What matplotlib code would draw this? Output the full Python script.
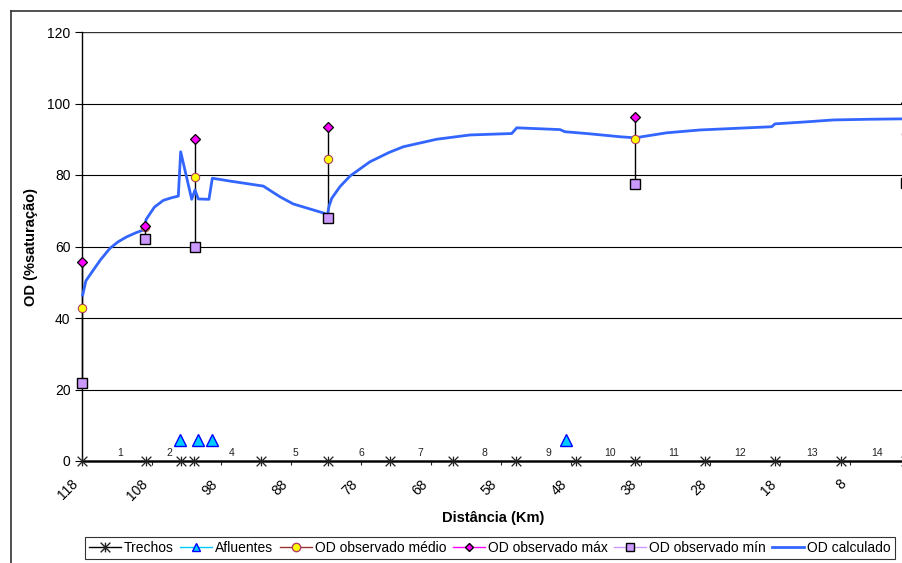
import matplotlib
matplotlib.use("Agg")
import matplotlib.pyplot as plt
from matplotlib.path import Path
from matplotlib.lines import Line2D
from matplotlib.transforms import ScaledTranslation

plt.rcParams['font.family'] = ['Liberation Sans', 'DejaVu Sans']

# ---------------- data ----------------
trecho_km = [118, 108.8, 103.8, 101.9, 92.3, 82.8, 73.8, 64.8, 55.8, 47.2, 38.8, 28.7, 18.7, 9.3, 0]
trecho_od = [0] * len(trecho_km)
trecho_labels = ['1', '2', '4', '5', '6', '7', '8', '9', '10', '11', '12', '13', '14']
trecho_label_km = [112.5, 105.5, 96.6, 87.4, 78.0, 69.5, 60.3, 51.2, 42.3, 33.2, 23.8, 13.4, 4.1]

afl_km = [103.9, 101.3, 99.3, 48.7]
afl_od = [6, 6, 6, 6]

obs_km = [117.9, 108.9, 101.8, 82.8, 38.8, 0]
obs_mean = [42.7, 65.5, 79.4, 84.4, 90.0, 91.5]
obs_max = [55.8, 65.6, 90.1, 93.4, 96.2, 100.2]
obs_min = [21.7, 62.1, 59.9, 67.9, 77.5, 77.7]

calc_km = [117.86, 117.4, 116.34, 115.3, 113.95, 112.8, 111.56, 110.3, 109.18, 108.87,
           108.8, 107.6, 106.32, 105.2, 104.17, 103.83, 102.25, 101.78, 101.31, 99.78,
           99.30, 96.77, 92.0, 89.61, 87.71, 83.27, 82.85, 82.6, 82.2, 81.0, 79.59,
           76.73, 74.0, 71.96, 67.18, 62.41, 56.44, 55.72, 49.52, 48.81, 45.70, 40.93,
           38.79, 34.25, 29.48, 19.22, 18.75, 14.0, 10.4, 5.0, 0.56, 0]
calc_od = [46.4, 50.4, 53.4, 56.3, 59.5, 61.3, 62.7, 63.8, 64.6, 65.0,
           67.5, 71.0, 72.9, 73.6, 74.1, 86.5, 73.2, 75.8, 73.3, 73.2,
           79.1, 78.3, 76.9, 73.9, 71.9, 69.3, 68.6, 71.2, 73.5, 76.8, 79.7,
           83.7, 86.3, 87.9, 90.0, 91.2, 91.6, 93.2, 92.7, 92.1, 91.6, 90.7,
           90.4, 91.8, 92.6, 93.5, 94.3, 94.9, 95.4, 95.6, 95.7, 95.7]

x_ticks = [118, 108, 98, 88, 78, 68, 58, 48, 38, 28, 18, 8]
y_ticks = [0, 20, 40, 60, 80, 100, 120]

# ---------------- figure ----------------
W, H = 902, 563
fig = plt.figure(figsize=(W / 100, H / 100), dpi=100)
fig.patch.set_facecolor('white')

# outer chart frame (cropped at right/bottom)
fig.add_artist(Line2D([10.5 / W, 10.5 / W], [0, 1 - 10.5 / H], transform=fig.transFigure,
                      color='#333333', lw=1.2))
fig.add_artist(Line2D([10.5 / W, 1], [1 - 10.5 / H, 1 - 10.5 / H], transform=fig.transFigure,
                      color='#333333', lw=1.2))

ax_l, ax_r, ax_t, ax_b = 81.7, 919.9, 32, 461
ax = fig.add_axes([ax_l / W, (H - ax_b) / H, (ax_r - ax_l) / W, (ax_b - ax_t) / H])
ax.set_xlim(118, -2)
ax.set_ylim(0, 120)

for s in ['top', 'right']:
    ax.spines[s].set_visible(False)
ax.spines['left'].set_color('black')
ax.spines['left'].set_linewidth(1.0)
ax.spines['bottom'].set_color('#222222')
ax.spines['bottom'].set_linewidth(1.8)

for yv in y_ticks[1:]:
    ax.axhline(yv, color='#333333' if yv == 120 else 'black', lw=1.0 if yv == 120 else 0.8, zorder=1)

star = Path([(0, -1), (0, 1), (-1, -1), (1, 1), (-1, 1), (1, -1)],
            [Path.MOVETO, Path.LINETO, Path.MOVETO, Path.LINETO, Path.MOVETO, Path.LINETO])

# high-low lines
for k, lo, hi in zip(obs_km, obs_min, obs_max):
    ax.plot([k, k], [lo, hi], color='black', lw=1.0, zorder=3, clip_on=False)

ax.plot(calc_km, calc_od, color='#3366FF', lw=2.0, zorder=4, clip_on=False)

ax.plot(trecho_km, trecho_od, color='black', lw=1.0, marker=star, markersize=7,
        markeredgewidth=0.9, markeredgecolor='#222222', zorder=5, clip_on=False)
ax.plot(afl_km, afl_od, linestyle='none', marker='^', markersize=8,
        markerfacecolor='#00CCFF', markeredgecolor='#0000FF', markeredgewidth=1.0, zorder=5)
ax.plot(obs_km, obs_min, linestyle='none', marker='s', markersize=7,
        markerfacecolor='#CC99FF', markeredgecolor='black', markeredgewidth=1.0, zorder=6, clip_on=False)
ax.plot(obs_km, obs_mean, linestyle='none', marker='o', markersize=6,
        markerfacecolor='#FFFF00', markeredgecolor='#B04060', markeredgewidth=0.8, zorder=6, clip_on=False)
ax.plot(obs_km, obs_max, linestyle='none', marker='D', markersize=5,
        markerfacecolor='#FF00FF', markeredgecolor='black', markeredgewidth=0.9, zorder=7, clip_on=False)

for lab, k in zip(trecho_labels, trecho_label_km):
    ax.text(k, 0.9, lab, ha='center', va='bottom', fontsize=7.5, color='#222222', zorder=5)

ax.set_xticks(x_ticks)
ax.set_xticklabels([str(v) for v in x_ticks], rotation=45, ha='right', va='center',
                   rotation_mode='anchor', fontsize=10)
ax.tick_params(axis='x', direction='out', length=3, width=0.8, pad=12, colors='#222222',
               labelcolor='black')
off = ScaledTranslation(-6 / 100, 0, fig.dpi_scale_trans)
for lbl in ax.get_xticklabels():
    lbl.set_transform(lbl.get_transform() + off)
ax.set_yticks(y_ticks)
ax.set_yticklabels([str(v) for v in y_ticks], fontsize=10)
ax.tick_params(axis='y', direction='out', length=5, width=0.8, pad=3)

ax.set_xlabel('Distância (Km)', fontsize=10.5, fontweight='bold')
ax.xaxis.set_label_coords((493 - ax_l) / (ax_r - ax_l), -(518 - ax_b) / (ax_b - ax_t))
ax.xaxis.label.set_va('center')
ax.set_ylabel('OD (%saturação)', fontsize=10.5, fontweight='bold')
ax.yaxis.set_label_coords(-(ax_l - 31) / (ax_r - ax_l), 0.5)
ax.yaxis.label.set_va('center')

handles = [
    Line2D([], [], color='black', lw=1.0, marker=star, markersize=7, markeredgecolor='#222222'),
    Line2D([], [], color='#00CCFF', lw=1.0, marker='^', markersize=6,
           markerfacecolor='#00CCFF', markeredgecolor='#0000FF'),
    Line2D([], [], color='#993333', lw=1.0, marker='o', markersize=6,
           markerfacecolor='#FFFF00', markeredgecolor='#B04060'),
    Line2D([], [], color='#FF00FF', lw=1.0, marker='D', markersize=4.5,
           markerfacecolor='#FF00FF', markeredgecolor='black'),
    Line2D([], [], color='#CC99FF', lw=1.0, marker='s', markersize=6,
           markerfacecolor='#CC99FF', markeredgecolor='black'),
    Line2D([], [], color='#3366FF', lw=2.0),
]
labels = ['Trechos', 'Afluentes', 'OD observado médio', 'OD observado máx',
          'OD observado mín', 'OD calculado']
leg = fig.legend(handles, labels, ncol=6, loc='lower left',
                 bbox_to_anchor=(85 / W, 4 / H, (895 - 85) / W, 26 / H), mode='expand',
                 borderaxespad=0, fontsize=10, frameon=True, fancybox=False,
                 handlelength=2.3, handletextpad=0.2, columnspacing=0.3,
                 borderpad=0.3)
leg.get_frame().set_edgecolor('black')
leg.get_frame().set_linewidth(0.8)

fig.savefig('out.png', dpi=100)
